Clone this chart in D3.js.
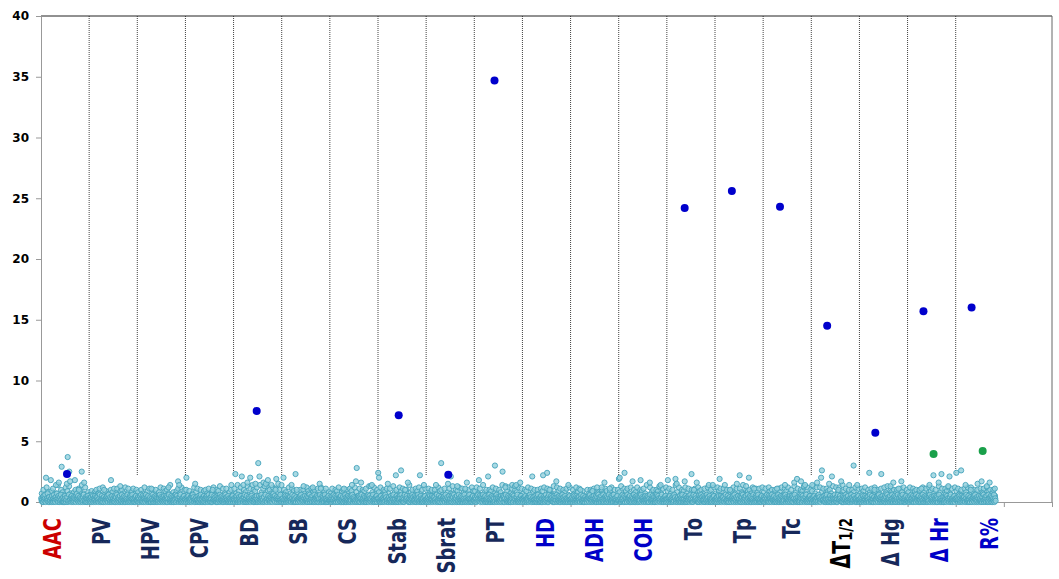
<!DOCTYPE html>
<html><head><meta charset="utf-8">
<script src="https://cdn.jsdelivr.net/npm/d3@7"></script>
<style>body{margin:0;background:#fff}</style>
</head><body>
<svg id="chart" width="1059" height="579"></svg>
<script>
// ---- DATA ----
const categories = ["AAC","PV","HPV","CPV","BD","SB","CS","Stab","Sbrat","PT","HD","ADH","COH","To","Tp","Tc","ΔT1/2","Δ Hg","Δ Hr","R%"];
const yTicks = [0,5,10,15,20,25,30,35,40];
// background marker values per trait, one char per marker, value = index in CODE / 10 ('.' = no marker)
const CODE = "0123456789abcdefghijklmnopqrstuvwxyzABCDEFGHIJ";
const bgAAC   = "312040521360k23172044021i305120361204e271305g204162t030402053102f4B016p1h24051320413i206272150a314023p20416g201403205132";
const bgPV    = "2031402615031252041341207361021503204a2103241503622041i3051231052047160241305d2016302415024023160b3105142036203102405121";
const bgHPV   = "14023051263015204231063214052021400b316024031520413021536024131024150321504203c6120315024100413260351 3h20e416021302415023";
const bgCPV   = "20k31405210314205163410 2f3041220513042601320415032041253026131042060a122531402035024136041215024031263041205130 2130e41502";
const bgBD    = "3120n415020614203152l320e416023051g204131k02513e202041f305120w15l204163102g40d16f1203i51320413e206272150a3j4023f2041620e";
const bgSB    = "2031k026150312520413 4120e361021503n04a21032415036220 41d305123105204716 0241305c2016302415024023f60b310514203620 3102405121";
const bgCS    = "14023051263015204231063214052021400b316024031520413 0215e602413102h1s0321504203g6120315024100413260351 3d20e416021302415023";
const bgStab  = "o3k014052103142051634102f304122051304260 1320m150320412530q613104206a122531g0203502413604121502403126 3041m051302130e41502";
const bgSbrat = "20314026150312520413 4120e361021503204w21032415036220 41f30512 3l05204716 0241305d2016302415024023160b310g14203620 3102405121";
const bgPT    = "14023051263i152042310632140520 2140l316024031520413 0u153602413102415032p504203c6120315024100413e603513d20e416021302g15023";
const bgHD    = "203314052103142051634102l304122051304260 13204150320m125302613o04206a122531402035 0241h604121502403126 3041205130 2130e41502";
const bgADH   = "20314026150312520413 4120a361021503204221 0324150362 2041930512 3105204716 0241305c20 1630g41502 4023160b31 0514203620 3102405121";
const bgCOH   = "j1k03051263015o04231 0632140520 2140h31602 4031520413 0215i60241 3102415032 1504203g61 2031502410 0413260351 3d20e41602 1302415023";
const bgTo    = "20i3140521 0314205163 4j02f30412 2051304260 1320h15032 0412530261 3n04206a12 2531g02035 0241360412 1502403126 3041e05130 2130e41502";
const bgTp    = "2031402615 0j12520413 4120e36102 1503204a21 0324150362 2041f30512 3m05204716 0241305d20 1630k41502 4023160b31 0514203620 3102405121";
const bgTc    = "1402305126 3015204231 0632140520 2140b31602 4031520413 0215e60241 3102415032 1504203g61 2031j02410 0413h60351 3d20e41602 1302415023";
const bgDT    = "20e3140521 0314g05163 4102k3q412 2051304260 1320f15032 0l12530261 3104206a12 2531h02035 0241360412 1502e03126 30412u5130 2130e41502";
const bgDHg   = "2031402615 0312520413 4120o36102 1503204a21 0324150362 2041n30512 3105204716 0241305d20 1630g41502 4023160b31 0514h03620 3102405121";
const bgDHr   = "1402305126 3015204231 0632140520 2140b31602 4031520413 0215e60241 3102m15032 1504203g61 2031n02410 0413260351 3d20l41602 1302415023";
const bgR     = "2o31402615 031q520413 4120e36102 1503204a21 0324150362 2041f30512 3105h04716 0241305d20 1630g41502 4023160b31 .......... ..........";
// upper part of the band, same encoding
const upAAC   = "7a5c869b47e5a86c9d758a6b9e7c58";
const upPV    = "6958a7b5c6947a8b5b69a7c5849b7a";
const upHPV   = "85a7c69b4a7a58c6b9a7e5869b7c5a";
const upCPV   = "a6957c8b5a69a7b58c6a9d4b7b58a6";
const upBD    = "b7e9c5a8d6b7a9c5e8b6d9a7c5b8a6";
const upSB    = "6a85c7b9584a6a7c95b8a6b5c79b48";
const upCS    = "7b5a9c68a5a7b96c85b7a9b5d68c7a";
const upStab  = "8c6a9b7b5d8a6c9b7a5e8a6b9c7a5b";
const upSbrat = "6b8a5a7c9a6b58b7d6a9c5b8a7a6c9";
const upPT    = "9c7b5e8a6a9c7b5a8e6d9c7b5a8c6b";
const upHD    = "7a9c5b8a6a7b9c5b8a6d7c9b5a8b6c";
const upADH   = "5a7c8b6953a7a9b5c86a7b958c6a4a";
const upCOH   = "8d6b9b7c5a8c6a9b7e5c8a6a9c7b5c";
const upTo    = "9b7a5e8c6a9c7b5a8b6c9a7b5c8a6c";
const upTp    = "7c9b5b8a6a9c7b5b8e6a9a7c5b8b6c";
const upTc    = "8b6c9a7a5b8c6b9c7a5d8b6a9c7c5a";
const upDT    = "9d7c5c8b6b9a7d5c8c6e9b7a5a8c6b";
const upDHg   = "7b9c5a8b6c9a7b5c8d6b9a7a5b8c6a";
const upDHr   = "8c6b9a7a5c8b6c9b7a5d8b6b9c7b5c";
const upR     = "9b7a5b8c6c9a7a5b8b6c9a7a5.....";
const backgroundSeries = [bgAAC,bgPV,bgHPV,bgCPV,bgBD,bgSB,bgCS,bgStab,bgSbrat,bgPT,bgHD,bgADH,bgCOH,bgTo,bgTp,bgTc,bgDT,bgDHg,bgDHr,bgR];
const upperSeries = [upAAC,upPV,upHPV,upCPV,upBD,upSB,upCS,upStab,upSbrat,upPT,upHD,upADH,upCOH,upTo,upTp,upTc,upDT,upDHg,upDHr,upR];
// significant markers: trait, value, relative position inside trait
const sigTraits = ["AAC","BD","Stab","Sbrat","PT","To","Tp","Tc","ΔT1/2","Δ Hg","Δ Hr","R%"];
const sigValues = [2.3, 7.5, 7.15, 2.25, 34.7, 24.2, 25.6, 24.3, 14.5, 5.7, 15.7, 16.0];
const sigPos    = [0.54, 0.48, 0.43, 0.46, 0.42, 0.37, 0.35, 0.35, 0.33, 0.33, 0.33, 0.33];
const secTraits = ["Δ Hr","R%"];
const secValues = [3.95, 4.2];
const secPos    = [0.54, 0.56];

// ---- STYLE ----
const labelColor = {"AAC":"#cc0000","HD":"#0000c8","ADH":"#0000c8","COH":"#0000c8","Δ Hr":"#0000c8","R%":"#0000c8","ΔT1/2":"#000000"};
const navy = "#16285a";

const svg = d3.select("#chart");
const nSlots = categories.length + 1;
const x = d3.scaleLinear().domain([0, nSlots]).range([41, 1052]);
const y = d3.scaleLinear().domain([0, 40]).range([502, 16]);
const idx = d3.scaleOrdinal().domain(categories).range(d3.range(categories.length));
const labelX = d3.scalePoint().domain(categories).range([52, 989]);

// dotted dividers
svg.append("g").selectAll("line").data(d3.range(1, categories.length))
  .join("line")
  .attr("x1", d => x(d)).attr("x2", d => x(d))
  .attr("y1", y(40)).attr("y2", y(2.2))
  .attr("stroke", "#444").attr("stroke-width", 1).attr("stroke-dasharray", "1,1");

// borders
svg.append("line").attr("x1", x(0)).attr("x2", x(nSlots)).attr("y1", y(40)).attr("y2", y(40)).attr("stroke", "#222");
svg.append("line").attr("x1", x(nSlots)).attr("x2", x(nSlots)).attr("y1", y(40)).attr("y2", y(0)).attr("stroke", "#666");

// axes
const yAxis = svg.append("g").attr("transform", `translate(${x(0)},0)`)
  .call(d3.axisLeft(y).tickValues(yTicks).tickSize(5).tickSizeOuter(0).tickPadding(7));
yAxis.select(".domain").attr("stroke", "#999");
yAxis.selectAll(".tick line").attr("stroke", "#999");
yAxis.selectAll("text").attr("font-family", "DejaVu Sans, Verdana, sans-serif").attr("font-weight", "bold").attr("font-size", 12).attr("fill", "#000");

const xAxis = svg.append("g").attr("transform", `translate(0,${y(0)})`)
  .call(d3.axisBottom(x).tickValues(d3.range(nSlots + 1)).tickFormat("").tickSize(5).tickSizeOuter(0));
xAxis.select(".domain").attr("stroke", "#999");
xAxis.selectAll(".tick line").attr("stroke", "#999");

// background markers
const bgPoints = [];
function addSeries(list) {
  list.forEach((s, ci) => {
    const chars = s.replace(/ /g, "").split("");
    const n = chars.length;
    chars.forEach((c, j) => {
      const k = CODE.indexOf(c);
      if (k < 0) return;
      bgPoints.push({slot: ci + (j + 0.5) / n, value: k / 10});
    });
  });
}
addSeries(upperSeries);
addSeries(backgroundSeries);
svg.append("g").selectAll("circle").data(bgPoints).join("circle")
  .attr("cx", d => x(d.slot)).attr("cy", d => y(d.value)).attr("r", 2.6)
  .attr("fill", "#93d0dc").attr("fill-opacity", 0.8)
  .attr("stroke", "#45a3bb").attr("stroke-opacity", 0.9).attr("stroke-width", 1);

// significant markers
const sig = sigTraits.map((t, i) => ({slot: idx(t) + sigPos[i], value: sigValues[i]}));
svg.append("g").selectAll("circle").data(sig).join("circle")
  .attr("cx", d => x(d.slot)).attr("cy", d => y(d.value)).attr("r", 4).attr("fill", "#0000cc");
const sec = secTraits.map((t, i) => ({slot: idx(t) + secPos[i], value: secValues[i]}));
svg.append("g").selectAll("circle").data(sec).join("circle")
  .attr("cx", d => x(d.slot)).attr("cy", d => y(d.value)).attr("r", 4).attr("fill", "#1aa04a");

// category labels
const lab = svg.append("g").selectAll("g").data(categories).join("g")
  .attr("transform", d => `translate(${labelX(d)},518)`);
const txt = lab.append("text")
  .attr("transform", "scale(1.35,1) rotate(-90)")
  .attr("text-anchor", "end").attr("dominant-baseline", "central")
  .attr("font-family", "DejaVu Sans, Verdana, sans-serif").attr("font-weight", "bold")
  .attr("font-size", 18)
  .attr("fill", d => labelColor[d] || navy);
txt.each(function(d) {
  const t = d3.select(this);
  if (d === "ΔT1/2") {
    t.append("tspan").text("ΔT").attr("font-size", 19);
    t.append("tspan").text("1/2").attr("font-size", 13).attr("dy", "0.3em");
  } else {
    t.text(d);
  }
});
</script>
</body></html>
